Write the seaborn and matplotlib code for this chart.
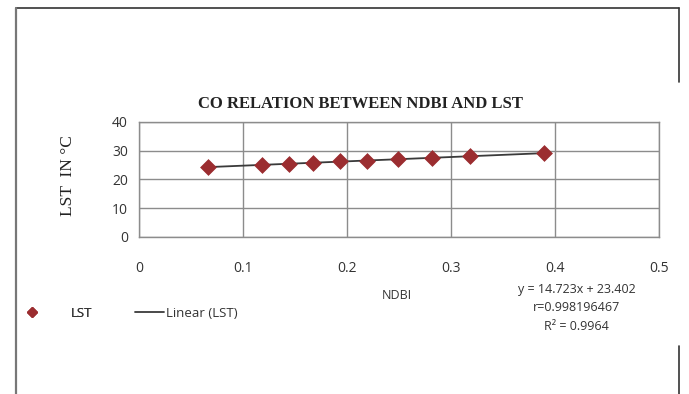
import numpy as np
import pandas as pd
import matplotlib.pyplot as plt
import seaborn as sns
from matplotlib.lines import Line2D

# data
ndbi = [0.066, 0.118, 0.144, 0.167, 0.193, 0.219, 0.249, 0.282, 0.318, 0.389]
lst = [24.2, 25.1, 25.5, 25.8, 26.3, 26.6, 27.1, 27.5, 28.1, 29.1]
x_ticks = [0, 0.1, 0.2, 0.3, 0.4, 0.5]
x_tick_labels = ["0", "0.1", "0.2", "0.3", "0.4", "0.5"]
y_ticks = [0, 10, 20, 30, 40]
eq_lines = ["y = 14.723x + 23.402", "r=0.998196467", "R² = 0.9964"]

veri = pd.DataFrame({"NDBI": ndbi, "LST": lst})

sns.set_style("white")
plt.rcParams["font.family"] = ["Open Sans", "DejaVu Sans"]

fig = plt.figure(figsize=(6.89, 3.94), dpi=100)
ax = fig.add_axes([0.2017, 0.3985, 0.7547, 0.2919])

# trend line + points
sns.regplot(x="NDBI", y="LST", data=veri, scatter=False, ci=None, truncate=True,
            ax=ax, line_kws={"color": "#3a3a3a", "lw": 1.3})
sns.scatterplot(x="NDBI", y="LST", data=veri, ax=ax, marker="D", s=65,
                color="#9b2d30", edgecolor="#9b2d30", linewidth=0.5, zorder=3)

ax.set_xlim(0, 0.5)
ax.set_ylim(0, 40)
ax.set_xticks(x_ticks)
ax.set_xticklabels(x_tick_labels)
ax.set_yticks(y_ticks)
ax.grid(True, color="#8c8c8c", lw=1)
ax.set_axisbelow(True)
for s in ax.spines.values():
    s.set_color("#8c8c8c")
    s.set_linewidth(1)
ax.tick_params(axis="x", length=0, pad=17, labelsize=10, labelcolor="#333333")
ax.tick_params(axis="y", length=0, pad=8, labelsize=10, labelcolor="#333333")
ax.set_xlabel("")
ax.set_ylabel("")

fig.text(0.523, 0.736, "CO RELATION BETWEEN NDBI AND LST", ha="center", va="center",
         family="Liberation Serif", weight="bold", fontsize=12, color="#222222")
fig.text(0.099, 0.555, "LST  IN °C", rotation=90, ha="center", va="center",
         family="Liberation Serif", fontsize=12.5, color="#222222")
fig.text(0.576, 0.249, "NDBI", ha="center", va="center", fontsize=9, color="#333333")

for i, t in enumerate(eq_lines):
    fig.text(0.837, 0.266 - i * 0.047, t, ha="center", va="center",
             fontsize=9, color="#333333")

# legend (two parts, spacing as in the original)
leg1 = fig.legend([Line2D([], [], marker="D", color="#9b2d30", ls="none", markersize=5)],
                  ["LST"], loc="center left", bbox_to_anchor=(0.015, 0.205),
                  frameon=False, fontsize=9.5, handlelength=1.5, handletextpad=2.2,
                  labelcolor="#333333")
fig.add_artist(leg1)
fig.legend([Line2D([], [], color="#3a3a3a", lw=1.3)], ["Linear (LST)"],
           loc="center left", bbox_to_anchor=(0.178, 0.205), frameon=False,
           fontsize=9.5, handlelength=2.2, handletextpad=0.2, labelcolor="#333333")

# outer frame
fc = "#333333"
fig.add_artist(Line2D([0.0232, 0.9855], [0.9797, 0.9797], transform=fig.transFigure, color=fc, lw=1.2))
fig.add_artist(Line2D([0.0232, 0.0232], [0, 0.9797], transform=fig.transFigure, color="#777777", lw=1.6))
fig.add_artist(Line2D([0.9855, 0.9855], [0.792, 0.9797], transform=fig.transFigure, color=fc, lw=1.2))
fig.add_artist(Line2D([0.9855, 0.9855], [0, 0.1218], transform=fig.transFigure, color=fc, lw=1.2))

plt.savefig("out.png", dpi=100)
